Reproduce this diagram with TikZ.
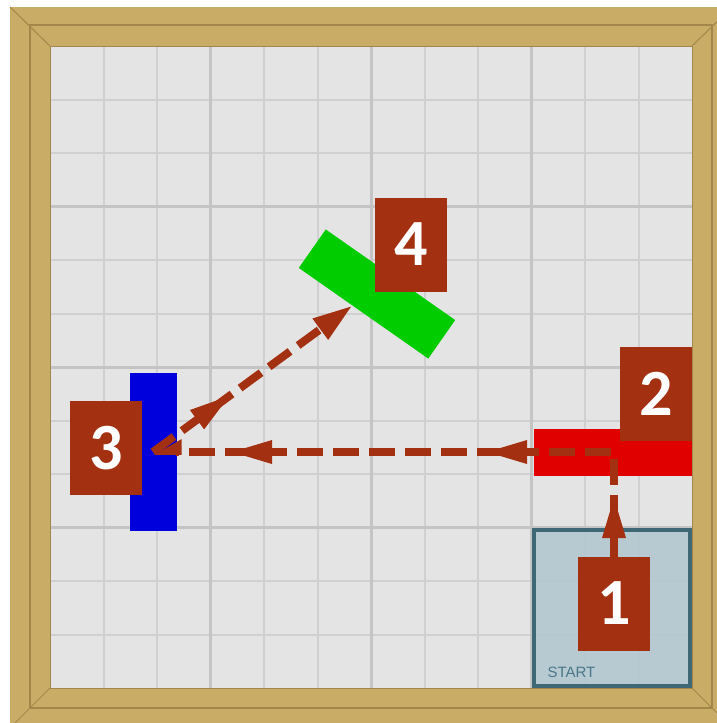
\documentclass[tikz,border=0pt]{standalone}
\usepackage{fontspec}
\newfontfamily\numfont{Carlito}
\newfontfamily\startfont{Liberation Sans}
\usetikzlibrary{arrows.meta,positioning,calc,decorations.markings}
\definecolor{rust}{HTML}{A33010}
\definecolor{wood}{HTML}{C9AC66}
\definecolor{wooddark}{HTML}{A3874A}
\definecolor{floor}{HTML}{E4E4E4}
\definecolor{gridminor}{HTML}{D0D0D0}
\definecolor{gridmajor}{HTML}{C4C4C4}
\definecolor{startfill}{HTML}{B3C8D1}
\definecolor{startedge}{HTML}{3F6876}
\definecolor{starttext}{HTML}{4A7788}
\definecolor{barred}{HTML}{E10000}
\definecolor{barblue}{HTML}{0000DD}
\definecolor{bargreen}{HTML}{00CC00}
\newcommand{\headtip}{\fill[rust, draw=none] (0,0) -- (-40,12) -- (-40,-12) -- cycle;}
\tikzset{
  bar style/.style={rectangle, inner sep=0pt, outer sep=0pt,
    minimum width=158pt, minimum height=47pt},
  num style/.style={rectangle, fill=rust, inner sep=0pt, outer sep=0pt,
    minimum width=72pt, minimum height=94pt, text=white,
    font=\numfont\bfseries\fontsize{66}{66}\selectfont},
  path style/.style={draw=rust, line width=8pt, dash pattern=on 26pt off 10pt},
  BigTip/.tip={Triangle[length=40pt, width=24pt]},
  minor style/.style={gridminor, line width=2pt},
  major style/.style={gridmajor, line width=3pt}
}

\begin{document}
\begin{tikzpicture}[x=1pt, y=-1pt]
\useasboundingbox (0,0) rectangle (717,723);
\clip (0,0) rectangle (717,723);
\fill[white] (0,0) rectangle (717,723);
\fill[wood] (10,7) rectangle (732,728);
\draw[wooddark, line width=2pt] (30,25) rectangle (712,708);
\draw[wooddark, line width=1pt] (10,7) -- (50,46) (732,7) -- (692,46)
  (10,728) -- (50,688) (732,728) -- (692,688);
\fill[floor] (50,46) rectangle (692,688);
\foreach \i in {1,2,4,5,7,8,10,11} {
  \draw[minor style] (50+53.5*\i,46) -- (50+53.5*\i,688);
  \draw[minor style] (50,46+53.5*\i) -- (692,46+53.5*\i);
}
\foreach \i in {3,6,9} {
  \draw[major style] (50+53.5*\i,46) -- (50+53.5*\i,688);
  \draw[major style] (50,46+53.5*\i) -- (692,46+53.5*\i);
}
\draw[wooddark, line width=1pt] (50,46) rectangle (692,688);
\path[fill=startfill, fill opacity=0.9, draw=startedge, line width=4pt]
  (534,530) rectangle (690,686);
\node[anchor=base west, text=starttext, font=\startfont\fontsize{15}{15}\selectfont]
  (start) at (544,677) {START};

\node[bar style, fill=barred] (red) at (613,452) {};
\node[bar style, fill=barblue, rotate=90] (blue) at (153,452) {};
\node[bar style, fill=bargreen, rotate=-35] (green) at (377,294) {};
\coordinate (g4) at ($(green.south)!0.17!(green.south west)$);

\node[num style] (n1) at (614,603.5) {1};
\node[num style] (n2) at (656,393.5) {2};
\node[num style] (n3) at (106,448) {3};
\node[num style] (n4) at (411,244.5) {4};

\draw[path style, -{Triangle[length=23pt, width=24pt, right]},
  postaction={decorate, decoration={markings,
    mark=at position 58.5pt with {\headtip},
    mark=at position 231.5pt with {\headtip},
    mark=at position 486.5pt with {\headtip}}}]
  (n1.north) |- (blue.center);
\draw[path style, -BigTip,
  postaction={decorate, decoration={markings,
    mark=at position 94.6pt with {\headtip}}}]
  (blue.center) -- (g4);
\end{tikzpicture}
\end{document}
